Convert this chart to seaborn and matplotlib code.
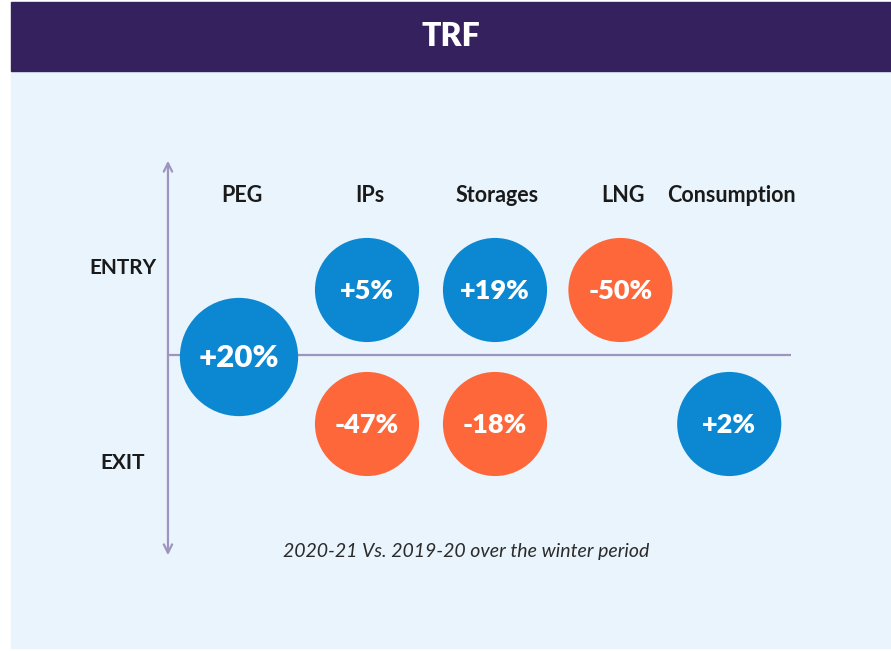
import matplotlib
matplotlib.use("Agg")
import matplotlib.pyplot as plt
from matplotlib.patches import Rectangle
import seaborn as sns
import pandas as pd

# ---- data ----
title = "TRF"
categories = ["PEG", "IPs", "Storages", "LNG", "Consumption"]
items = ["PEG", "IPs", "Storages", "LNG", "IPs", "Storages", "Consumption"]
flows = ["Both", "Entry", "Entry", "Entry", "Exit", "Exit", "Exit"]
changes = [20, 5, 19, -50, -47, -18, 2]
row_labels = ["ENTRY", "EXIT"]
subtitle = "2020-21 Vs. 2019-20 over the winter period"

# ---- layout (not data) ----
col_x = {"PEG": 0.0, "IPs": 1.0, "Storages": 2.0, "LNG": 2.98, "Consumption": 3.83}
row_y = {"Entry": 1.0, "Both": 0.0, "Exit": -1.0}

BLUE = "#0B88D1"
ORANGE = "#FE673A"
HEADER = "#36215F"
PANEL = "#E9F4FC"
LINE = "#9D95BE"

sns.set_style("white")
plt.rcParams["font.family"] = ["Lato", "DejaVu Sans"]

df = pd.DataFrame({"item": items, "flow": flows, "change": changes})
df["x"] = df["item"].map(col_x)
df["y"] = df["flow"].map(row_y)
df["sign"] = ["pos" if c > 0 else "neg" for c in df["change"]]

fig = plt.figure(figsize=(8.91, 6.51), dpi=100, facecolor="white")
W, H = 891, 651
fig.patches.append(Rectangle((11 / W, 1 - 648 / H), 1 - 11 / W, (648 - 71) / H,
                             transform=fig.transFigure, color=PANEL, zorder=-2))
fig.patches.append(Rectangle((11 / W, 1 - 71 / H), 1 - 11 / W, 69 / H,
                             transform=fig.transFigure, color=HEADER, zorder=-2))
fig.text((11 + 891) / 2 / W, 1 - 36 / H, title, color="white", fontsize=23,
         fontweight="heavy", ha="center", va="center")

ax = fig.add_axes([0, 0, 1, 1])
ax.set_zorder(1)
ax.set_facecolor("none")
ax.patch.set_alpha(0)
ux, uy = 128.0, 67.0
x0, y0 = 239.0, 357.0

# axes lines
ax.plot([-0.555, 4.3125], [0.03, 0.03], color=LINE, lw=1.6, zorder=1, solid_capstyle="butt")
ax.annotate("", xy=(-0.555, (y0 - 158) / uy), xytext=(-0.555, -(558 - y0) / uy),
            arrowprops=dict(arrowstyle="<->,head_length=0.6,head_width=0.3",
                            color=LINE, lw=1.6), zorder=1)

sns.scatterplot(data=df, x="x", y="y", hue="sign", size="flow",
                sizes={"Both": 7250, "Entry": 5620, "Exit": 5620},
                palette={"pos": BLUE, "neg": ORANGE}, linewidth=0,
                legend=False, ax=ax, zorder=2)
ax.set_xlim(-x0 / ux, (W - x0) / ux)
ax.set_ylim(-(H - y0) / uy, y0 / uy)
ax.set_axis_off()

for _, r in df.iterrows():
    ax.text(r["x"], r["y"] - 0.02, f"{r['change']:+d}%", color="white",
            fontsize=22.5 if r["flow"] == "Both" else 19.5, fontweight="heavy",
            ha="center", va="center", zorder=3)

for c in categories:
    ax.text(col_x[c] + (0.02 if c != "Consumption" else 0.02), (y0 - 196) / uy, c,
            fontsize=15.5, fontweight="bold", color="#1A1A1A", ha="center", va="center")

ax.text(-0.906, (y0 - 268) / uy, row_labels[0], fontsize=15, fontweight="bold",
        color="#1A1A1A", ha="center", va="center")
ax.text(-0.906, -(463 - y0) / uy, row_labels[1], fontsize=15, fontweight="bold",
        color="#1A1A1A", ha="center", va="center")

ax.text((466 - x0) / ux, -(551 - y0) / uy, subtitle, fontsize=14, style="italic",
        fontweight="normal", color="#2B2B2B", ha="center", va="center")

fig.savefig("out.png", dpi=100, facecolor="white")
